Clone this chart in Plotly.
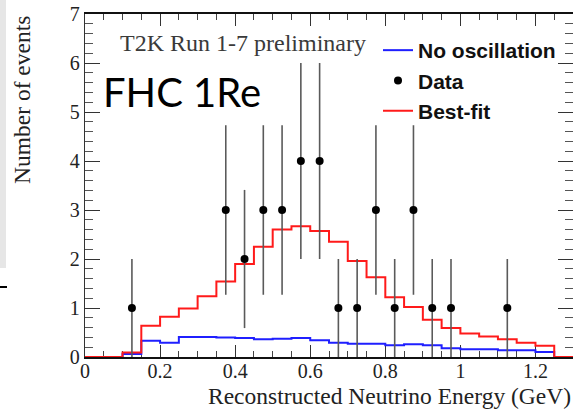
import plotly.graph_objects as go

# ---------------- data ----------------
bin_edges = [0.00, 0.05, 0.10, 0.15, 0.20, 0.25, 0.30, 0.35, 0.40, 0.45, 0.50,
             0.55, 0.60, 0.65, 0.70, 0.75, 0.80, 0.85, 0.90, 0.95, 1.00,
             1.05, 1.10, 1.15, 1.20, 1.25, 1.30]
best_fit = [0.00, 0.00, 0.09, 0.64, 0.82, 0.99, 1.24, 1.54, 1.90, 2.25, 2.60,
            2.67, 2.57, 2.35, 1.96, 1.63, 1.22, 1.02, 0.76, 0.59, 0.48,
            0.42, 0.36, 0.29, 0.23, 0.00]
no_osc = [0.00, 0.00, 0.06, 0.33, 0.29, 0.41, 0.41, 0.40, 0.39, 0.36, 0.37,
          0.39, 0.34, 0.29, 0.27, 0.27, 0.24, 0.26, 0.24, 0.18, 0.16,
          0.16, 0.14, 0.14, 0.10, 0.00]
data_x = [0.125, 0.375, 0.425, 0.475, 0.525, 0.575, 0.625, 0.675, 0.725,
          0.775, 0.825, 0.875, 0.925, 0.975, 1.125]
data_n = [1, 3, 2, 3, 3, 4, 4, 1, 1, 3, 1, 3, 1, 1, 1]
data_err = [1.0, 1.73, 1.41, 1.73, 1.73, 2.0, 2.0, 1.0, 1.0, 1.73, 1.0, 1.73,
            1.0, 1.0, 1.0]

x_title = "Reconstructed Neutrino Energy (GeV)"
y_title = "Number of events"
label_exp = "T2K Run 1-7 preliminary"
label_sample = "FHC 1Re"

# ---------------- figure ----------------
W, H = 573, 411
ML, MR, MT, MB = 85, 0, 14, 54

fig = go.Figure()

fig.add_trace(go.Scatter(
    x=bin_edges, y=no_osc + [no_osc[-1]], mode="lines", line_shape="hv",
    line=dict(color="#1f1fff", width=2), name="No oscillation", legendrank=1))
fig.add_trace(go.Scatter(
    x=bin_edges, y=best_fit + [best_fit[-1]], mode="lines", line_shape="hv",
    line=dict(color="#ff1a1a", width=2), name="Best-fit", legendrank=3))
fig.add_trace(go.Scatter(
    x=data_x, y=data_n, mode="markers", name="Data", legendrank=2,
    marker=dict(color="black", size=8),
    error_y=dict(type="data", array=data_err, color="#5a5a5a", thickness=1.6, width=0),
    cliponaxis=False))

serif = "Liberation Serif, Times New Roman, serif"

fig.update_layout(
    width=W, height=H,
    margin=dict(l=ML, r=MR, t=MT, b=MB),
    paper_bgcolor="white", plot_bgcolor="white",
    showlegend=True,
    legend=dict(x=(378 - ML) / (W - ML - MR), y=(H - MB - 30) / (H - MT - MB),
                xanchor="left", yanchor="top", bgcolor="rgba(0,0,0,0)",
                font=dict(family="Liberation Sans, Arial, sans-serif", size=21,
                          color="#111", weight="bold"),
                itemwidth=30, tracegroupgap=0),
    xaxis=dict(range=[0, 1.3], showgrid=False, zeroline=False,
               showline=True, linecolor="#111", linewidth=1.8, mirror="allticks",
               ticks="inside", ticklen=12, tickwidth=1.4, tickcolor="#333",
               dtick=0.2, tick0=0, ticklabelstandoff=-5,
               minor=dict(dtick=0.05, ticks="inside", ticklen=6, tickwidth=1.2,
                          tickcolor="#444"),
               tickfont=dict(family=serif, size=20, color="#222"),
               layer="below traces"),
    yaxis=dict(range=[0, 7], showgrid=False, zeroline=False,
               showline=True, linecolor="#333", linewidth=1.4, mirror="allticks",
               ticks="inside", ticklen=15, tickwidth=1.4, tickcolor="#333",
               dtick=1, tick0=0,
               minor=dict(dtick=0.2, ticks="inside", ticklen=8, tickwidth=1.2,
                          tickcolor="#555"),
               tickfont=dict(family=serif, size=20, color="#222"),
               layer="below traces"),
)

pw = W - ML - MR
ph = H - MT - MB


def px(xp):
    return (xp - ML) / pw


def py(yp):
    return (H - MB - yp) / ph


fig.add_annotation(text=y_title, textangle=-90, xref="paper", yref="paper",
                   x=px(22), y=py(100), xanchor="center", yanchor="middle",
                   showarrow=False, font=dict(family=serif, size=23.5, color="#222"))
fig.add_annotation(text=x_title, xref="paper", yref="paper",
                   x=1.0, y=py(396), xanchor="right", yanchor="middle",
                   showarrow=False, font=dict(family=serif, size=23.5, color="#222"))
fig.add_annotation(text=label_exp, xref="paper", yref="paper",
                   x=px(118), y=py(43), xanchor="left", yanchor="middle",
                   showarrow=False, font=dict(family=serif, size=24, color="#3a3a3a"))
fig.add_annotation(text=label_sample, xref="paper", yref="paper",
                   x=px(101), y=py(92), xanchor="left", yanchor="middle",
                   showarrow=False, font=dict(family="Lato, sans-serif", size=40, color="black"))

# slide artefacts at the left edge
fig.add_shape(type="rect", xref="paper", yref="paper",
              x0=px(0), x1=px(6), y0=py(268), y1=py(0),
              fillcolor="#e6e6e6", line=dict(width=0), layer="below")
fig.add_shape(type="line", xref="paper", yref="paper",
              x0=px(0), x1=px(7), y0=py(287), y1=py(287),
              line=dict(color="black", width=2))

fig.write_html("out.html", config={"displayModeBar": False},
               post_script="document.body.style.margin='0px';"
                           "document.body.style.overflow='hidden';")
